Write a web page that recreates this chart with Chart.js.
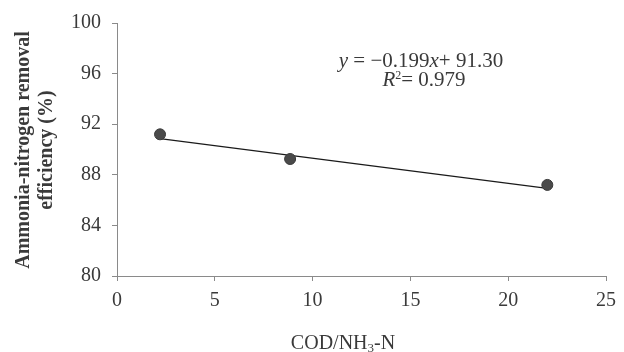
<!DOCTYPE html>
<html>
<head>
<meta charset="utf-8">
<script src="https://cdn.jsdelivr.net/npm/chart.js@4/dist/chart.umd.min.js"></script>
<style>
  html, body { margin: 0; padding: 0; background: #ffffff; }
  #wrap { width: 624px; height: 352px; position: relative; }
</style>
</head>
<body>
<div id="wrap"><canvas id="chart" width="624" height="352"></canvas></div>
<script>
// COD/NH3-N ratio and ammonia-nitrogen removal efficiency (%)
const codRatio = [2.2, 8.85, 22.0];
const removalEff = [91.2, 89.25, 87.2];

// Linear fit shown on the chart
const fitSlope = -0.199;
const fitIntercept = 91.30;
const fitR2 = 0.979;

// Axis ranges and tick steps
const xRange = [0, 25];
const xStep = 5;
const yRange = [80, 100];
const yStep = 4;

const fitLine = [Math.min(...codRatio), Math.max(...codRatio)].map(x => ({
  x: x, y: fitIntercept + fitSlope * x
}));

const serif = '"Liberation Serif", "Times New Roman", serif';
const axisGray = '#8a8a8a';
const textGray = '#3a3a3a';

const titlesPlugin = {
  id: 'titles',
  afterDraw(chart) {
    const { ctx } = chart;
    ctx.save();
    ctx.fillStyle = textGray;

    // x-axis title with subscript
    const cx = 343;
    const ty = 349;
    const big = '20px ' + serif, small = '13px ' + serif;
    ctx.textBaseline = 'alphabetic';
    ctx.textAlign = 'left';
    const p1 = 'COD/NH', p2 = '3', p3 = '-N';
    ctx.font = big; const w1 = ctx.measureText(p1).width;
    ctx.font = small; const w2 = ctx.measureText(p2).width;
    ctx.font = big; const w3 = ctx.measureText(p3).width;
    const sx = cx - (w1 + w2 + w3) / 2;
    ctx.font = big; ctx.fillText(p1, sx, ty);
    ctx.font = small; ctx.fillText(p2, sx + w1, ty + 3);
    ctx.font = big; ctx.fillText(p3, sx + w1 + w2, ty);

    // y-axis title, two rotated lines
    ctx.save();
    ctx.translate(24, 150);
    ctx.rotate(-Math.PI / 2);
    ctx.textAlign = 'center';
    ctx.textBaseline = 'middle';
    ctx.font = 'bold 20px ' + serif;
    ctx.fillText('Ammonia-nitrogen removal', 0, 0);
    ctx.fillText('efficiency (%)', 0, 23);
    ctx.restore();

    // fit equation
    const segs = [
      ['italic 21px ' + serif, 'y'],
      ['21px ' + serif, ' = \u2212' + Math.abs(fitSlope).toFixed(3)],
      ['italic 21px ' + serif, 'x'],
      ['21px ' + serif, '+ ' + fitIntercept.toFixed(2)]
    ];
    drawSegments(ctx, segs, 421, 67);
    const segs2 = [
      ['italic 21px ' + serif, 'R'],
      ['12px ' + serif, '2', -7],
      ['21px ' + serif, '= ' + fitR2.toFixed(3)]
    ];
    drawSegments(ctx, segs2, 424, 86);
    ctx.restore();
  }
};

function drawSegments(ctx, segs, centerX, baseY) {
  let total = 0;
  const widths = segs.map(s => { ctx.font = s[0]; const w = ctx.measureText(s[1]).width; total += w; return w; });
  let x = centerX - total / 2;
  ctx.textAlign = 'left';
  ctx.textBaseline = 'alphabetic';
  segs.forEach((s, i) => {
    ctx.font = s[0];
    ctx.fillText(s[1], x, baseY + (s[2] || 0));
    x += widths[i];
  });
}

new Chart(document.getElementById('chart'), {
  type: 'scatter',
  data: {
    datasets: [
      {
        label: 'Removal efficiency',
        data: codRatio.map((x, i) => ({ x: x, y: removalEff[i] })),
        pointRadius: 5.5,
        pointHoverRadius: 5.5,
        pointBackgroundColor: '#4a4a4a',
        pointBorderColor: '#3a3a3a',
        pointBorderWidth: 1,
        showLine: false,
        order: 0
      },
      {
        label: 'Linear fit',
        data: fitLine,
        showLine: true,
        borderColor: '#1a1a1a',
        borderWidth: 1.3,
        pointRadius: 0,
        fill: false,
        order: 1
      }
    ]
  },
  options: {
    responsive: false,
    animation: false,
    devicePixelRatio: 1,
    layout: { padding: { top: 19, right: 13, left: 0, bottom: 0 } },
    plugins: { legend: { display: false }, tooltip: { enabled: false } },
    scales: {
      x: {
        type: 'linear',
        min: xRange[0],
        max: xRange[1],
        afterFit(scale) { scale.height = 76; },
        ticks: {
          stepSize: xStep,
          padding: 8,
          color: textGray,
          font: { family: serif, size: 20 }
        },
        grid: { drawOnChartArea: false, drawTicks: true, tickLength: 5, color: axisGray },
        border: { color: axisGray, width: 1 }
      },
      y: {
        type: 'linear',
        min: yRange[0],
        max: yRange[1],
        afterFit(scale) { scale.width = 117; },
        ticks: {
          stepSize: yStep,
          padding: 11,
          color: textGray,
          font: { family: serif, size: 20 }
        },
        grid: { drawOnChartArea: false, drawTicks: true, tickLength: 5, color: axisGray },
        border: { color: axisGray, width: 1 }
      }
    }
  },
  plugins: [titlesPlugin]
});
</script>
</body>
</html>
